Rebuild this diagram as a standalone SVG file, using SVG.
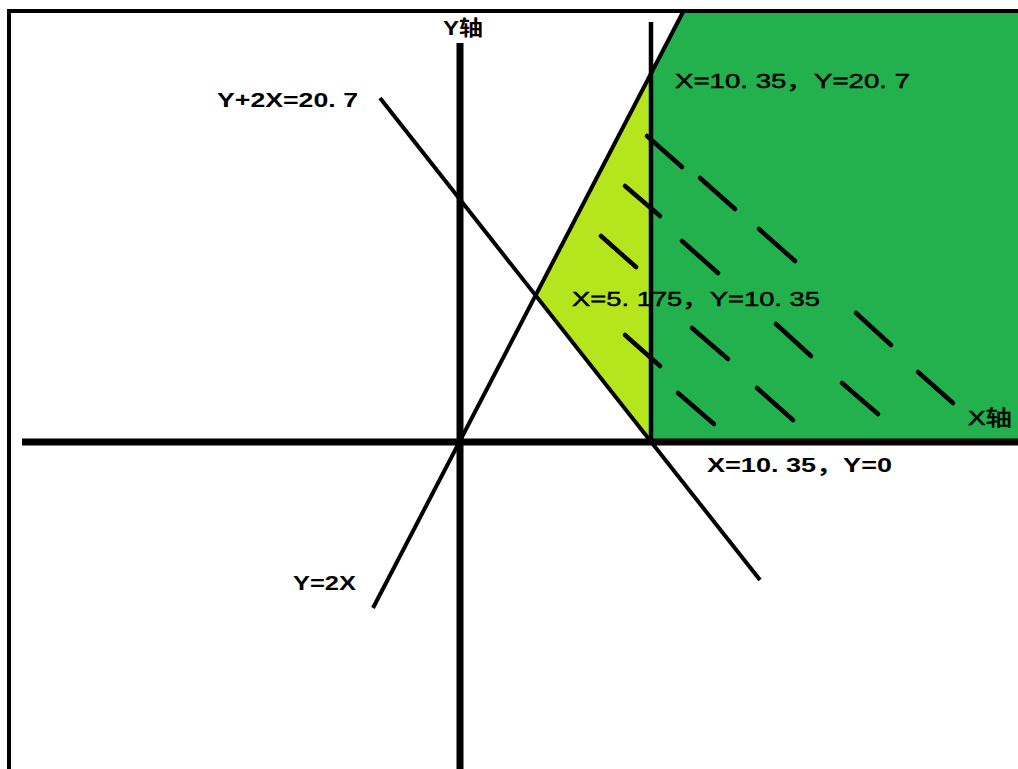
<svg xmlns="http://www.w3.org/2000/svg" width="1018" height="769" viewBox="0 0 1018 769">
<style>
.ln{stroke:#000;fill:none}
.dash{stroke:#000;stroke-width:4.5;stroke-linecap:round}
.t{font-family:"Liberation Sans","Noto Sans CJK SC",sans-serif;font-size:21px;fill:#000}
.r{stroke:#000;stroke-width:0.5}
.b{font-weight:bold}
</style>
<rect width="1018" height="769" fill="#fff"/>
<g id="regions">
<polygon id="feasible" points="683,12 1018,12 1018,441 650,441 650,75.5" fill="#22B14C"/>
<polygon id="triangle" points="650,75.5 535,297 650,441" fill="#B5E61D"/>
</g>
<g id="hatching">
<line class="dash" x1="647" y1="136" x2="682" y2="167"/>
<line class="dash" x1="700" y1="178" x2="735" y2="209"/>
<line class="dash" x1="759" y1="229" x2="795" y2="261"/>
<line class="dash" x1="625" y1="186" x2="660" y2="216"/>
<line class="dash" x1="601" y1="236" x2="636" y2="267"/>
<line class="dash" x1="682" y1="241" x2="718" y2="273"/>
<line class="dash" x1="856" y1="313" x2="891" y2="345"/>
<line class="dash" x1="776" y1="324" x2="811" y2="356"/>
<line class="dash" x1="692" y1="328" x2="728" y2="359"/>
<line class="dash" x1="625" y1="335" x2="660" y2="366"/>
<line class="dash" x1="918" y1="372" x2="953" y2="403"/>
<line class="dash" x1="842" y1="383" x2="878" y2="414"/>
<line class="dash" x1="757" y1="388" x2="793" y2="420"/>
<line class="dash" x1="678" y1="393" x2="714" y2="424"/>
</g>
<g id="connectors">
<line id="border-top" class="ln" x1="8" y1="11" x2="1018" y2="11" stroke-width="4"/>
<line id="border-left" class="ln" x1="9" y1="9" x2="9" y2="769" stroke-width="4"/>
<line id="y-axis" class="ln" x1="460" y1="43" x2="460" y2="769" stroke-width="7"/>
<line id="x-axis" class="ln" x1="22" y1="442" x2="1018" y2="442" stroke-width="7"/>
<line id="x-10-35" class="ln" x1="651" y1="22" x2="651" y2="442" stroke-width="4.5"/>
<line id="y-2x" class="ln" x1="373" y1="608" x2="683" y2="12" stroke-width="4"/>
<line id="y-plus-2x" class="ln" x1="380" y1="98" x2="760" y2="580" stroke-width="4"/>
</g>
<g id="labels">
<text id="lbl-yaxis" class="t b" x="443" y="35" textLength="40" lengthAdjust="spacingAndGlyphs">Y轴</text>
<text id="lbl-line1" class="t b" x="217" y="107" textLength="141" lengthAdjust="spacingAndGlyphs">Y+2X=20. 7</text>
<text id="lbl-top" class="t r" x="675" y="88" textLength="235" lengthAdjust="spacingAndGlyphs">X=10. 35，Y=20. 7</text>
<text id="lbl-mid" class="t r" x="572" y="306" textLength="248" lengthAdjust="spacingAndGlyphs">X=5. 175，Y=10. 35</text>
<text id="lbl-xaxis" class="t r" x="968" y="425" textLength="44" lengthAdjust="spacingAndGlyphs">X轴</text>
<text id="lbl-bottom" class="t b" x="707" y="472" textLength="185" lengthAdjust="spacingAndGlyphs">X=10. 35，Y=0</text>
<text id="lbl-line2" class="t b" x="293" y="590" textLength="63" lengthAdjust="spacingAndGlyphs">Y=2X</text>
</g>
</svg>
